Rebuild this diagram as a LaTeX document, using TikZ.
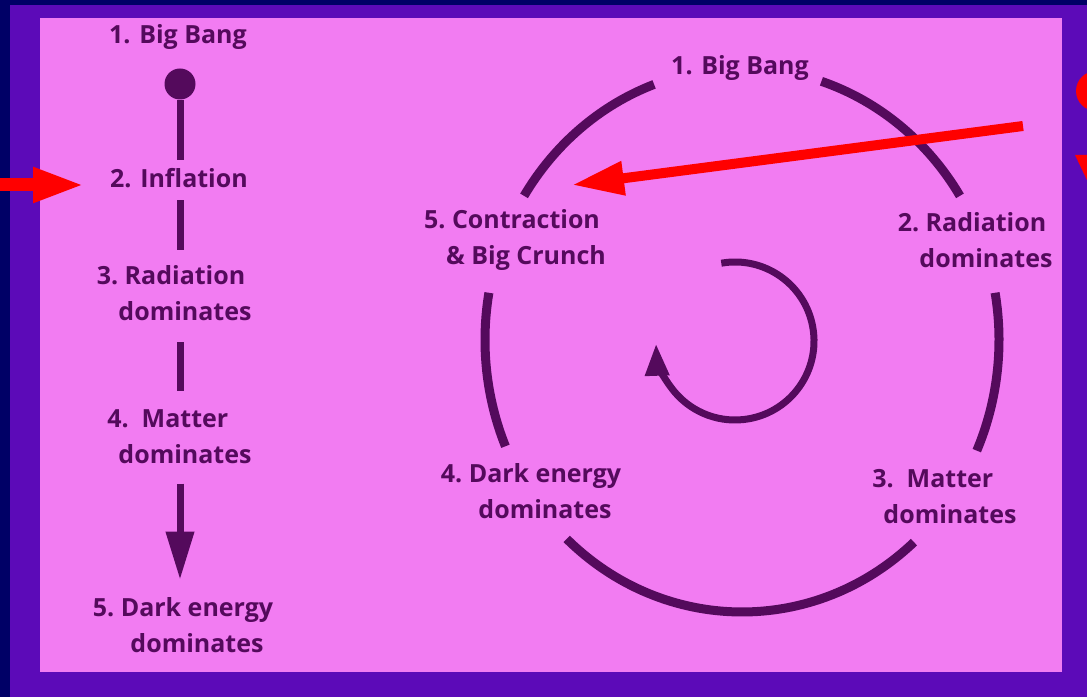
\documentclass[tikz,border=0pt]{standalone}
\usepackage{fontspec}
\setmainfont{Open Sans}
\usetikzlibrary{arrows.meta}

\definecolor{bgnavy}{RGB}{0,0,102}
\definecolor{bgframe}{RGB}{92,10,184}
\definecolor{bgpink}{RGB}{242,124,242}
\definecolor{ink}{RGB}{84,10,92}

% číslo kroku vystrčené doleva
\newcommand{\stage}[1]{\leavevmode\llap{#1\ }}

\begin{document}
\begin{tikzpicture}[x=1pt,y=1pt,
    lbl/.style={text=ink,font=\bfseries\fontsize{25}{36}\selectfont,align=center,inner sep=0pt},
    stem/.style={draw=ink,line width=7pt},
    ring/.style={draw=ink,line width=9pt},
    pointer/.style={draw=red,line width=#1,-{Triangle[length=52pt,width=32pt]}}]
    % pozadí
    \useasboundingbox (0,0) rectangle (1087,697);
    \fill[bgnavy] (0,0) rectangle (1087,697);
    \fill[bgframe] (10,0) rectangle (1087,692);
    \fill[bgpink] (40,25) rectangle (1062,679);
    \begin{scope}
        \clip (0,0) rectangle (1087,697);
        \fill[red] (1096,606) circle (20);
        \fill[red] (1075,542) -- (1120,542) -- (1095,500) -- cycle;
    \end{scope}

    % lineární model
    \begin{scope}[shift={(180,0)}]
        \node[circle,fill=ink,inner sep=0pt,minimum size=31pt] (dot) at (0,613) {};
        \node[lbl] (bang) at (-2,659.5) {1. Big Bang};
        \node[lbl] (infl) at (-1,518.5) {2. Inflation};
        \node[lbl] (rad) at (5,403.5) {\stage{3.}Radiation\\dominates};
        \node[lbl] (mat) at (5,260.5) {\stage{4.\ }Matter\\dominates};
        \node[lbl] (dark) at (17,71.5) {\stage{5.}Dark energy\\dominates};
        \draw[stem,shorten >=9pt] (dot) -- (dot |- infl.north);
        \draw[stem,shorten <=12pt,shorten >=16pt] (dot |- infl.south) -- (dot |- rad.north);
        \draw[stem,shorten <=21pt,shorten >=18pt] (dot |- rad.south) -- (dot |- mat.north);
        \draw[stem,shorten <=20pt,shorten >=18pt,-{Triangle[length=48pt,width=27pt]}] (dot |- mat.south) -- (dot |- dark.north);
    \end{scope}

    % cyklický model
    \begin{scope}[shift={(742,357)}]
        \draw[ring] (148:257 and 272) arc (148:110:257 and 272);
        \draw[ring] (72:257 and 272) arc (72:32:257 and 272);
        \draw[ring] (10:257 and 272) arc (10:-24:257 and 272);
        \draw[ring] (-48:257 and 272) arc (-48:-133:257 and 272);
        \draw[ring] (170:257 and 272) arc (170:203:257 and 272);
        \node[lbl] (rbang) at (-2,271.5) {1. Big Bang};
        \node[lbl] (rrad) at (244,99.5) {\stage{2.}Radiation\\dominates};
        \node[lbl] (rmat) at (208,-156.5) {\stage{3.\ }Matter\\dominates};
        \node[lbl] (rdark) at (-197,-151) {\stage{4.}Dark energy\\dominates};
        \node[lbl] (crunch) at (-216,99.5) {\stage{5.}Contraction\\\& Big Crunch};
        \coordinate (spin) at (-7,-1);
        \draw[stem,-{Triangle[length=32pt,width=23pt]}] (spin) ++(100:79) arc (100:-178:79);
    \end{scope}

    % šipky
    \coordinate (lefttail) at (0,512);
    \coordinate (lefttip) at (85,512);
    \draw[pointer=13pt] (lefttail) -- (lefttip);
    \coordinate (righttail) at (1023,571);
    \coordinate (righttip) at (572,512);
    \draw[pointer=10pt] (righttail) -- (righttip);
\end{tikzpicture}
\end{document}
